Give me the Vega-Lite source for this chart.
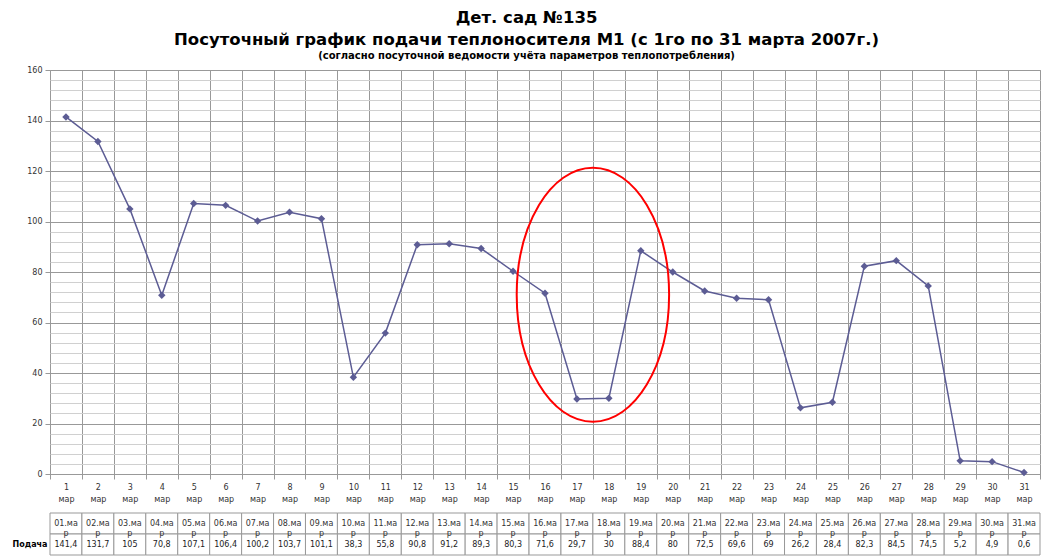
{
  "$schema": "https://vega.github.io/schema/vega-lite/v6.json",
  "background": "white",
  "padding": {"left": 12, "top": 10, "right": 12, "bottom": 2},
  "config": {
    "font": "DejaVu Sans",
    "locale": {"number": {"decimal": ",", "thousands": " ", "grouping": [3], "currency": ["", ""]}},
    "view": {"stroke": "#999"},
    "axis": {"labelFont": "DejaVu Sans", "labelFontSize": 8, "labelColor": "#333", "domainColor": "#999", "tickColor": "#999", "title": null}
  },
  "title": {
    "text": ["Дет. сад №135", "Посуточный график подачи теплоносителя М1 (с 1го по 31 марта 2007г.)"],
    "subtitle": "(согласно посуточной ведомости учёта параметров теплопотребления)",
    "anchor": "middle",
    "font": "DejaVu Sans",
    "fontSize": 16.5,
    "fontWeight": "bold",
    "lineHeight": 22,
    "color": "#000",
    "subtitleFont": "DejaVu Sans",
    "subtitleFontSize": 10,
    "subtitleFontWeight": "bold",
    "subtitleColor": "#000",
    "subtitlePadding": 2,
    "offset": 5
  },
  "data": {
    "values": [
      {"day": 1, "d": "01.мар", "v": 141.4},
      {"day": 2, "d": "02.мар", "v": 131.7},
      {"day": 3, "d": "03.мар", "v": 105},
      {"day": 4, "d": "04.мар", "v": 70.8},
      {"day": 5, "d": "05.мар", "v": 107.1},
      {"day": 6, "d": "06.мар", "v": 106.4},
      {"day": 7, "d": "07.мар", "v": 100.2},
      {"day": 8, "d": "08.мар", "v": 103.7},
      {"day": 9, "d": "09.мар", "v": 101.1},
      {"day": 10, "d": "10.мар", "v": 38.3},
      {"day": 11, "d": "11.мар", "v": 55.8},
      {"day": 12, "d": "12.мар", "v": 90.8},
      {"day": 13, "d": "13.мар", "v": 91.2},
      {"day": 14, "d": "14.мар", "v": 89.3},
      {"day": 15, "d": "15.мар", "v": 80.3},
      {"day": 16, "d": "16.мар", "v": 71.6},
      {"day": 17, "d": "17.мар", "v": 29.7},
      {"day": 18, "d": "18.мар", "v": 30},
      {"day": 19, "d": "19.мар", "v": 88.4},
      {"day": 20, "d": "20.мар", "v": 80},
      {"day": 21, "d": "21.мар", "v": 72.5},
      {"day": 22, "d": "22.мар", "v": 69.6},
      {"day": 23, "d": "23.мар", "v": 69},
      {"day": 24, "d": "24.мар", "v": 26.2},
      {"day": 25, "d": "25.мар", "v": 28.4},
      {"day": 26, "d": "26.мар", "v": 82.3},
      {"day": 27, "d": "27.мар", "v": 84.5},
      {"day": 28, "d": "28.мар", "v": 74.5},
      {"day": 29, "d": "29.мар", "v": 5.2},
      {"day": 30, "d": "30.мар", "v": 4.9},
      {"day": 31, "d": "31.мар", "v": 0.6}
    ]
  },
  "spacing": 8,
  "vconcat": [
    {
      "width": 990,
      "height": 404,
      "layer": [
        {
          "encoding": {
            "x": {"field": "day", "type": "ordinal", "scale": {"type": "band", "paddingInner": 0, "paddingOuter": 0},
              "axis": {"labelAngle": 0, "tickBand": "extent", "grid": true, "gridColor": "#999", "gridWidth": 1, "tickSize": 5, "labelPadding": 4, "labelLineHeight": 12, "labelExpr": "datum.label ? [datum.label, 'мар'] : ''"}},
            "y": {"field": "v", "type": "quantitative", "scale": {"domain": [0, 160], "nice": false},
              "axis": {"values": [0,4,8,12,16,20,24,28,32,36,40,44,48,52,56,60,64,68,72,76,80,84,88,92,96,100,104,108,112,116,120,124,128,132,136,140,144,148,152,156,160],
                "tickCount": 100,
                "labelExpr": "datum.value % 20 === 0 ? datum.label : ''",
                "gridColor": {"condition": {"test": "datum.value % 20 === 0", "value": "#999"}, "value": "#d0d0d0"},
                "tickOpacity": {"condition": {"test": "datum.value % 20 === 0", "value": 1}, "value": 0},
                "labelOverlap": false,
                "tickSize": 5, "labelPadding": 3, "domain": false}}
          },
          "layer": [
            {"mark": {"type": "line", "color": "#5c5c94", "strokeWidth": 1.5}},
            {"mark": {"type": "point", "shape": "diamond", "filled": true, "color": "#5c5c94", "size": 55, "opacity": 1}}
          ]
        },
        {
          "data": {"values": [{"cx": 17.5, "cy": 71}]},
          "mark": {"type": "point", "shape": "M -0.6,0 A 0.6,1 0 1,1 0.6,0 A 0.6,1 0 1,1 -0.6,0 Z", "size": 64516, "stroke": "#ff0000", "strokeWidth": 2, "filled": false, "opacity": 1},
          "encoding": {
            "x": {"field": "cx", "type": "quantitative", "scale": {"domain": [0.5, 31.5], "nice": false, "zero": false}, "axis": null},
            "y": {"field": "cy", "type": "quantitative"}
          }
        }
      ],
      "resolve": {"scale": {"x": "independent"}, "axis": {"x": "independent"}}
    },
    {
      "width": 990,
      "height": 42,
      "view": {"stroke": null},
      "transform": [
        {"calculate": "[slice(datum.d, 0, 5), slice(datum.d, 5)]", "as": "hl"},
        {"calculate": "format(datum.v, '.1~f')", "as": "vt"}
      ],
      "encoding": {
        "x": {"field": "day", "type": "ordinal", "scale": {"type": "band", "paddingInner": 0, "paddingOuter": 0}, "axis": null}
      },
      "layer": [
        {
          "mark": {"type": "rect", "fill": "white", "stroke": "#999", "strokeWidth": 1},
          "encoding": {
            "y": {"datum": "hdr", "type": "nominal", "scale": {"domain": ["hdr", "val"], "paddingInner": 0, "paddingOuter": 0},
              "axis": {"labelExpr": "datum.value === 'val' ? 'Подача' : ''", "ticks": false, "domain": false, "labelFontWeight": "bold", "labelColor": "#000", "labelPadding": 3}}
          }
        },
        {
          "mark": {"type": "rect", "fill": "white", "stroke": "#999", "strokeWidth": 1},
          "encoding": {"y": {"datum": "val", "type": "nominal"}}
        },
        {
          "mark": {"type": "text", "fontSize": 8, "color": "#333", "lineHeight": 10, "baseline": "middle"},
          "encoding": {"y": {"datum": "hdr", "type": "nominal"}, "text": {"field": "hl"}}
        },
        {
          "mark": {"type": "text", "fontSize": 8, "color": "#222", "baseline": "middle"},
          "encoding": {"y": {"datum": "val", "type": "nominal"}, "text": {"field": "vt"}}
        }
      ]
    }
  ]
}
